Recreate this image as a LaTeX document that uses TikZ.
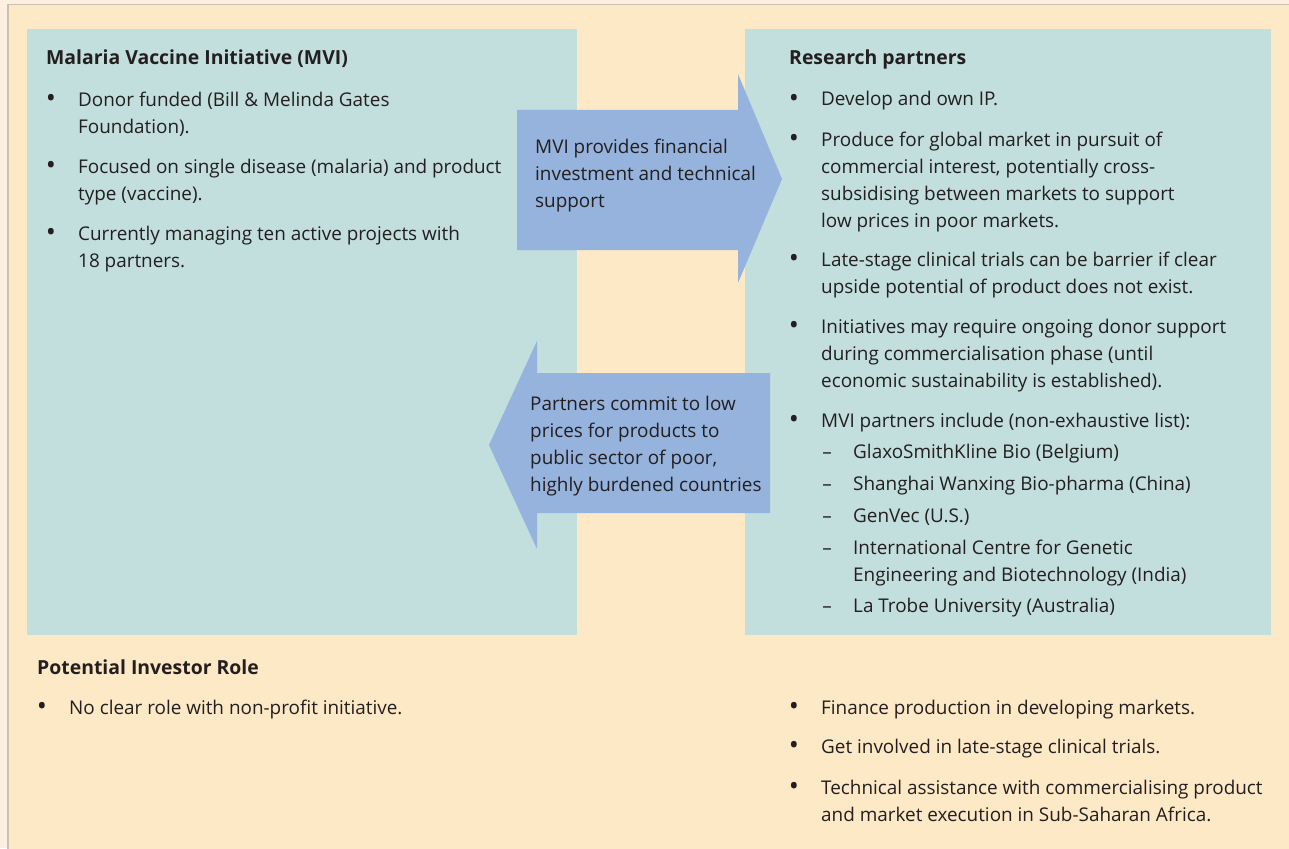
\documentclass[tikz,border=0pt]{standalone}
\usepackage{fontspec}
\setmainfont{Open Sans}
\usetikzlibrary{positioning,calc}

\definecolor{margin}{HTML}{FDF0E1}
\definecolor{paper}{HTML}{FEE9C6}
\definecolor{frameline}{HTML}{C9C0B6}
\definecolor{panelteal}{HTML}{C2DEDD}
\definecolor{flowblue}{HTML}{95B3DC}
\definecolor{ink}{HTML}{231F20}

\begin{document}
\begin{tikzpicture}[
  x=1pt, y=-1pt,
  txt/.style={anchor=base west, inner sep=0pt, align=left, text=ink, font=\fontsize{18.9}{27}\selectfont},
  title/.style={txt, font=\fontsize{19.4}{27}\selectfont\bfseries},
  dot/.style={anchor=base, inner sep=0pt, text=ink, font=\fontsize{27}{27}\selectfont},
  listdash/.style={anchor=base, inner sep=0pt, text=ink, font=\fontsize{18.9}{27}\selectfont},
  panel/.style={fill=panelteal, draw=none, inner sep=0pt, anchor=north west},
  flow/.style={fill=flowblue, draw=none}
]

% page and frame
\fill[margin] (0,0) rectangle (1289,848);
\useasboundingbox (0,0) rectangle (1289,848);
\fill[paper, draw=frameline, line width=1.5pt] (8,4.5) rectangle (1310,870);

% the two panels
\node[panel, minimum width=550pt, minimum height=606pt] (mvi) at (27,29) {};
\node[panel, minimum width=526pt, minimum height=606pt] (partners) at (745,29) {};

% block arrows between the panels
\fill[flow] (517,110) -- (738,110) -- (738,74) -- (782,179) -- (738,283)
  -- (738,250) -- (517,250) -- cycle;
\fill[flow] (770,373) -- (537,373) -- (537,341) -- (489,445) -- (537,549)
  -- (537,513) -- (770,513) -- cycle;

% multi-line texts sit on the baseline of their last line
\node[txt] (support) at (535,207) {MVI provides financial\\investment and technical\\support};
\node[txt] (commit) at (530,491) {Partners commit to low\\prices for products to\\public sector of poor,\\highly burdened countries};

% left panel
\node[title] (mvititle) at (46,65) {Malaria Vaccine Initiative (MVI)};
\node[txt] (m1) at (78,133) {Donor funded (Bill \& Melinda Gates\\Foundation).};
\node[txt] (m2) at (78,200) {Focused on single disease (malaria) and product\\type (vaccine).};
\node[txt] (m3) at (78,267) {Currently managing ten active projects with\\18 partners.};
\foreach \y in {106,173,240}
  \node[dot] (mdot\y) at (51,\y+1) {•};

% right panel
\node[title] (rptitle) at (789,65) {Research partners};
\node[txt] (r1) at (821,106) {Develop and own IP.};
\node[txt] (r2) at (821,227) {Produce for global market in pursuit of\\commercial interest, potentially cross-\\subsidising between markets to support\\low prices in poor markets.};
\node[txt] (r3) at (821,293) {Late-stage clinical trials can be barrier if clear\\upside potential of product does not exist.};
\node[txt] (r4) at (821,387) {Initiatives may require ongoing donor support\\during commercialisation phase (until\\economic sustainability is established).};
\node[txt] (r5) at (821,427) {MVI partners include (non-exhaustive list):};
\foreach \y in {106,146,266,333,427}
  \node[dot] (rdot\y) at (794,\y+1) {•};

\node[txt] (p1) at (853,458) {GlaxoSmithKline Bio (Belgium)};
\node[txt] (p2) at (853,490) {Shanghai Wanxing Bio-pharma (China)};
\node[txt] (p3) at (853,522) {GenVec (U.S.)};
\node[txt] (p4) at (853,581) {International Centre for Genetic\\Engineering and Biotechnology (India)};
\node[txt] (p5) at (853,612) {La Trobe University (Australia)};
\foreach \y in {458,490,522,554,612}
  \node[listdash] (pdash\y) at (827,\y) {–};

% investor role
\node[title] (roletitle) at (37,674) {Potential Investor Role};
\node[txt] (l1) at (69,714) {No clear role with non-profit initiative.};
\node[dot] (ldot) at (42,715) {•};

\node[txt] (i1) at (821,714) {Finance production in developing markets.};
\node[txt] (i2) at (821,753) {Get involved in late-stage clinical trials.};
\node[txt] (i3) at (821,821) {Technical assistance with commercialising product\\and market execution in Sub-Saharan Africa.};
\foreach \y in {714,753,794}
  \node[dot] (idot\y) at (794,\y+1) {•};

\end{tikzpicture}
\end{document}
